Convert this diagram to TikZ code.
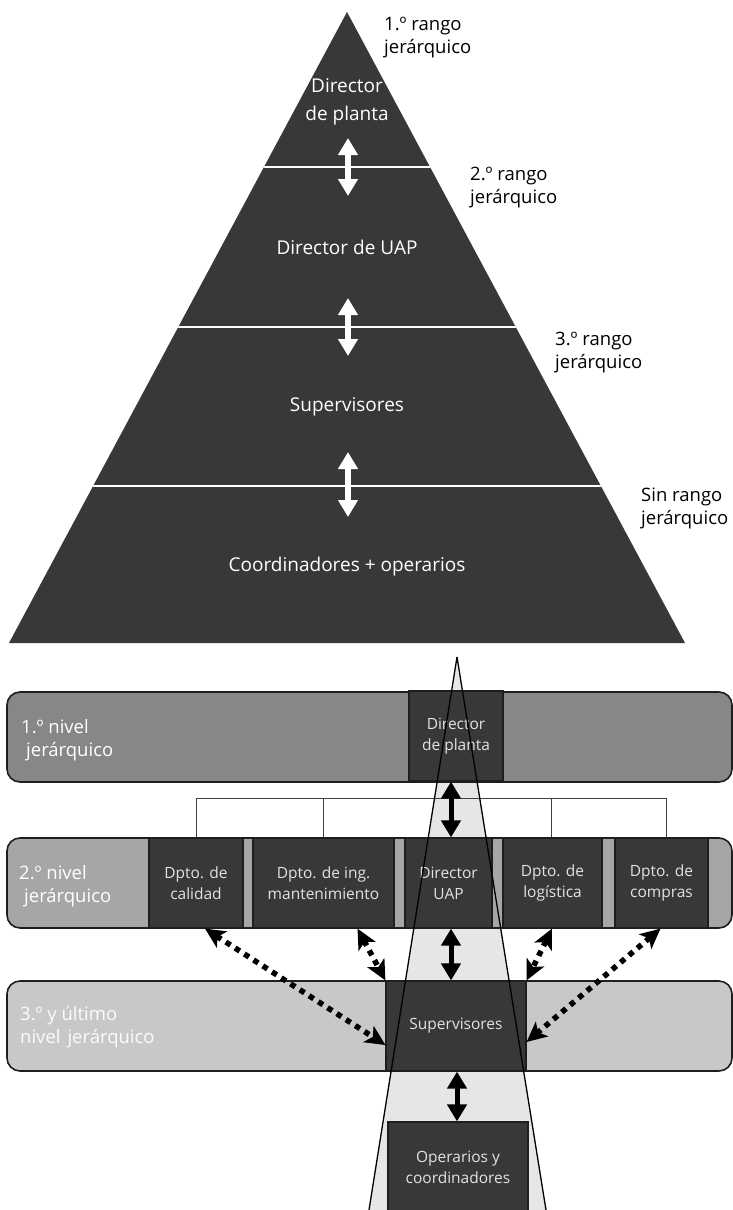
\documentclass[tikz,border=0pt]{standalone}
\usepackage{fontspec}
\setmainfont{Open Sans}
\usetikzlibrary{arrows.meta}

\definecolor{pyr}{HTML}{383838}
\definecolor{barA}{HTML}{878787}
\definecolor{barB}{HTML}{A6A6A6}
\definecolor{barC}{HTML}{C8C8C8}
\definecolor{funnel}{HTML}{E6E6E6}
\definecolor{boxtxt}{HTML}{E2E2E2}
\definecolor{edge}{HTML}{1E1E1E}

\begin{document}
\begin{tikzpicture}[x=1pt,y=-1pt,
  pyrtext/.style={text=white, align=center, inner sep=0pt, font=\fontsize{19}{28}\selectfont},
  ranklabel/.style={anchor=west, align=left, inner sep=0pt, text=black, font=\fontsize{18.5}{23}\selectfont},
  level/.style={draw=edge, line width=1.6pt, rounded corners=13pt, minimum width=725pt, minimum height=90pt, inner sep=0pt},
  levellabel/.style={anchor=west, align=left, inner sep=0pt, text=white, font=\fontsize{18.5}{23}\selectfont},
  unit/.style={draw=edge, line width=1.2pt, fill=pyr, text=boxtxt, align=center, inner sep=0pt, minimum height=90pt, font=\fontsize{15.5}{21}\selectfont},
  whitearrow/.style={draw=white, line width=5.5pt, {Triangle[length=17pt,width=19pt]}-{Triangle[length=17pt,width=19pt]}},
  blackarrow/.style={draw=black, line width=5pt, {Triangle[length=17pt,width=19pt]}-{Triangle[length=17pt,width=19pt]}},
  dotarrow/.style={draw=black, line width=5.5pt, dash pattern=on 5.5pt off 5.5pt, {Stealth[length=20pt,width=19pt,inset=5pt]}-{Stealth[length=20pt,width=19pt,inset=5pt]}},
  bus/.style={draw=edge!85, line width=1pt},
  funnelline/.style={draw=black, line width=1.3pt}
]
\useasboundingbox (0,0) rectangle (733,1210);
\clip (0,0) rectangle (733,1210);

% ---------- hierarchy pyramid ----------
\coordinate (apexT) at (347,12);
\coordinate (baseL) at (9,643);
\coordinate (baseR) at (685,643);
\fill[pyr] (apexT) -- (baseR) -- (baseL) -- cycle;
\begin{scope}
  \clip (apexT) -- (baseR) -- (baseL) -- cycle;
  \draw[white, line width=2.5pt] (0,167) -- (733,167);
  \draw[white, line width=2.5pt] (0,327) -- (733,327);
  \draw[white, line width=2.5pt] (0,486) -- (733,486);
\end{scope}

\node[pyrtext] (tierA) at (347,102) {Director\\de planta};
\node[pyrtext] (tierB) at (347,247) {Director de UAP};
\node[pyrtext] (tierC) at (347,407) {Supervisores};
\node[pyrtext] (tierD) at (347,567) {Coordinadores + operarios};

\coordinate (wA1) at (348,138); \coordinate (wA2) at (348,196);
\coordinate (wB1) at (348,298); \coordinate (wB2) at (348,356);
\coordinate (wC1) at (348,452); \coordinate (wC2) at (348,517);
\draw[whitearrow] (wA1) -- (wA2);
\draw[whitearrow] (wB1) -- (wB2);
\draw[whitearrow] (wC1) -- (wC2);

\node[ranklabel] (rankA) at (384,38) {1.º rango\\jerárquico};
\node[ranklabel] (rankB) at (470,188) {2.º rango\\jerárquico};
\node[ranklabel] (rankC) at (555,353) {3.º rango\\jerárquico};
\node[ranklabel] (rankD) at (641,508) {Sin rango\\jerárquico};

% ---------- organisation chart ----------
\coordinate (fApex) at (457,657);
\coordinate (fLeft) at (369,1210);
\coordinate (fRight) at (546,1210);
\fill[funnel] (fApex) -- (fRight) -- (fLeft) -- cycle;

\node[level, fill=barA] (lvlA) at (369.5,737) {};
\node[level, fill=barB] (lvlB) at (369.5,883) {};
\node[level, fill=barC] (lvlC) at (369.5,1026) {};

\node[levellabel] (labA) at (21,740) {1.º nivel\\\hspace{5pt}jerárquico};
\node[levellabel] (labB) at (19,886) {2.º nivel\\\hspace{5pt}jerárquico};
\node[levellabel, text=white!92!barC] (labC) at (20,1027) {3.º y último\\nivel\hspace{7pt}jerárquico};

\node[unit, minimum width=94pt] (dplanta) at (456,736) {Director\\de planta};
\node[unit, minimum width=94pt] (calidad) at (196,883) {Dpto. de\\calidad};
\node[unit, minimum width=141pt] (mant) at (323.5,883) {Dpto. de ing.\\mantenimiento};
\node[unit, minimum width=87pt] (duap) at (448.5,883) {Director\\UAP};
\node[unit, minimum width=99pt] (logist) at (552.5,883) {Dpto. de\\logística};
\node[unit, minimum width=93pt] (compras) at (661.5,883) {Dpto. de\\compras};
\node[unit, minimum width=140pt] (sup) at (456,1026) {Supervisores};
\node[unit, minimum width=140pt, minimum height=91pt] (oper) at (458,1167.5) {Operarios y\\coordinadores};

% reporting bus under the plant director
\coordinate (busline) at (0,798);
\draw[bus] (calidad.north) -- (calidad.north |- busline) -| ([xshift=5pt]compras.north);
\draw[bus] (mant.north) -- (mant.north |- busline);
\draw[bus] ([xshift=-1pt]logist.north) -- ([xshift=-1pt]logist.north |- busline);

% funnel edges
\draw[funnelline] (fApex) -- (fLeft);
\draw[funnelline] (fApex) -- (fRight);

% direct reporting
\draw[blackarrow] ([xshift=-5pt]dplanta.south) -- ([xshift=-5pt]dplanta.south |- duap.north);
\draw[blackarrow] ([xshift=2.5pt]duap.south) -- ([xshift=2.5pt]duap.south |- sup.north);
\draw[blackarrow] ([xshift=1pt]sup.south) -- ([xshift=1pt]sup.south |- oper.north);

% functional links to the supervisors
\draw[dotarrow] ([xshift=9pt]calidad.south) -- ([yshift=-19pt]sup.west);
\draw[dotarrow] ([xshift=34pt]mant.south) -- (sup.north west);
\draw[dotarrow] ([xshift=-0.5pt]logist.south) -- (sup.north east);
\draw[dotarrow] ([xshift=-1pt]compras.south) -- ([yshift=-16pt]sup.east);
\end{tikzpicture}
\end{document}
